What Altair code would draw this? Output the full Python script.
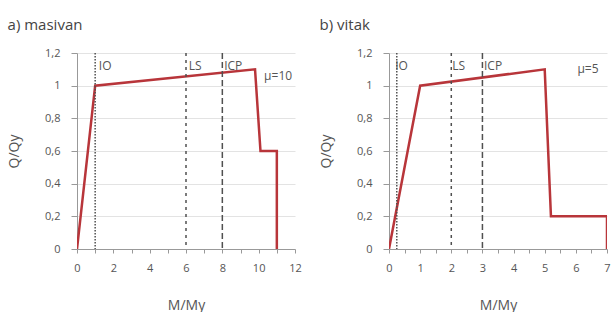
import altair as alt
import pandas as pd

FONT = "Open Sans"
RED = "#b8353a"
LINE_GRAY = "#505050"
TEXT = "#555555"

# panel a) masivan
a_x = [0, 1, 9.8, 10.1, 11, 11]
a_y = [0, 1, 1.1, 0.6, 0.6, 0]
a_limits = [1, 6, 8]
a_label_x = [1.2, 6.15, 8.1]
a_mu = "μ=10"
a_mu_x = 10.3
a_mu_y = 1.06
a_xmax = 12
a_xticks = list(range(0, 13))

# panel b) vitak
b_x = [0, 1, 5, 5.2, 7, 7]
b_y = [0, 1, 1.1, 0.2, 0.2, 0]
b_limits = [0.25, 2, 3]
b_label_x = [0.2, 2.03, 3.05]
b_mu = "μ=5"
b_mu_x = 6.05
b_mu_y = 1.1
b_xmax = 7
b_xticks = [i * 0.5 for i in range(0, 15)]

limit_names = ["IO", "LS", "ICP"]
limit_dashes = [[1.5, 1.5], [3, 4], [6, 3]]
label_y = 1.12
y_ticks = [0, 0.2, 0.4, 0.6, 0.8, 1.0, 1.2]


def panel(title, xs, ys, limits, label_xs, mu, mu_x, mu_y, xmax, xticks, label_expr):
    df = pd.DataFrame({"x": xs, "y": ys, "o": list(range(len(xs)))})
    xenc = alt.X(
        "x:Q",
        scale=alt.Scale(domain=[0, xmax], nice=False, zero=True),
        axis=alt.Axis(
            values=xticks, format="~g", labelExpr=label_expr, title="M/My",
            grid=False, tickSize=4, labelPadding=9, titlePadding=25,
            titleFontSize=14, labelOverlap=False, labelFlush=False,
        ),
    )
    yenc = alt.Y(
        "y:Q",
        scale=alt.Scale(domain=[0, 1.2], nice=False),
        axis=alt.Axis(
            values=y_ticks, format="~g",
            labelExpr="replace(datum.label, '.', ',')",
            title="Q/Qy", grid=True, tickSize=6, labelPadding=11,
            titlePadding=23, titleFontSize=14, labelOverlap=False,
        ),
    )
    base = alt.Chart(df).mark_line(color=RED, strokeWidth=2.5, clip=True).encode(
        x=xenc, y=yenc, order="o:Q"
    )
    layers = [base]
    for name, lx, dash in zip(limit_names, limits, limit_dashes):
        ldf = pd.DataFrame({"x": [lx]})
        layers.append(
            alt.Chart(ldf).mark_rule(color=LINE_GRAY, strokeWidth=1.5, strokeDash=dash).encode(
                x=xenc
            )
        )
    tdf = pd.DataFrame({"x": label_xs, "y": [label_y] * 3, "t": limit_names})
    layers.append(
        alt.Chart(tdf).mark_text(align="left", baseline="middle", font=FONT,
                                 fontSize=12, color=TEXT).encode(
            x=xenc, y=yenc, text="t:N"
        )
    )
    mdf = pd.DataFrame({"x": [mu_x], "y": [mu_y], "t": [mu]})
    layers.append(
        alt.Chart(mdf).mark_text(align="left", baseline="middle", font=FONT,
                                 fontSize=12, color=TEXT).encode(
            x=xenc, y=yenc, text="t:N"
        )
    )
    return alt.layer(*layers).properties(
        width=218, height=196,
        title=alt.TitleParams(title, anchor="start", fontSize=15, font=FONT,
                              color="#444444", fontWeight="normal", offset=14),
    )


left = panel("a) masivan", a_x, a_y, a_limits, a_label_x, a_mu, a_mu_x, a_mu_y,
             a_xmax, a_xticks, "datum.value % 2 == 0 ? datum.label : ''")
right = panel("b) vitak", b_x, b_y, b_limits, b_label_x, b_mu, b_mu_x, b_mu_y,
              b_xmax, b_xticks, "datum.value % 1 == 0 ? datum.label : ''")

chart = alt.hconcat(left, right, spacing=17).properties(
    padding={"left": 7, "top": 18, "right": 0, "bottom": 0},
    background="white",
).configure_view(stroke=None).configure_axis(
    labelFont=FONT, titleFont=FONT, labelColor=TEXT, titleColor=TEXT,
    labelFontSize=11, domainColor="#999999", tickColor="#999999",
    gridColor="#e3e3e3", titleFontWeight="normal",
)

chart.save("out.html", embed_options={"renderer": "svg", "actions": False})
